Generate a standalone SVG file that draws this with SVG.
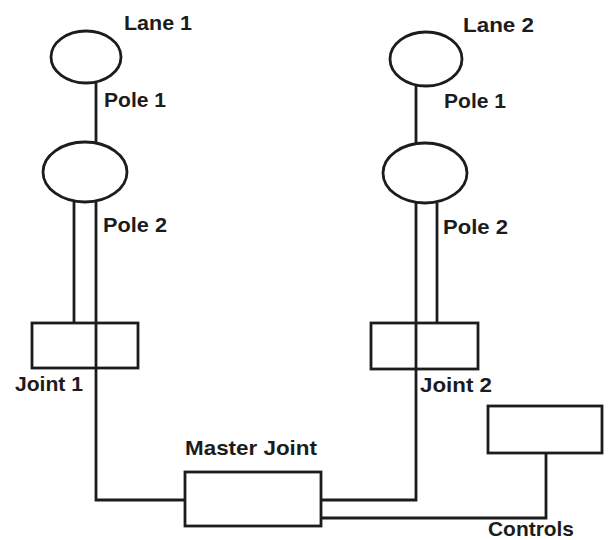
<svg xmlns="http://www.w3.org/2000/svg" width="609" height="540" viewBox="0 0 609 540">
<style>
.s{fill:none;stroke:#1c1c1c;stroke-width:2.8}
.t{font-family:"Liberation Sans",Arial,sans-serif;font-weight:bold;font-size:21px;fill:#1c1c1c}
</style>
<rect width="609" height="540" fill="#ffffff"/>
<g id="connectors">
<line class="s" x1="96" y1="83" x2="96" y2="142"/>
<line class="s" x1="74" y1="202" x2="74" y2="323"/>
<polyline class="s" points="96,202 96,500 185,500"/>
<line class="s" x1="416" y1="86" x2="416" y2="143"/>
<line class="s" x1="437" y1="203" x2="437" y2="323"/>
<polyline class="s" points="416,203 416,500 321,500"/>
<polyline class="s" points="546,453 546,518 321,518"/>
</g>
<g id="lane1">
<ellipse class="s" cx="86" cy="57" rx="35" ry="26"/>
<text class="t" x="124" y="30" textLength="68" lengthAdjust="spacingAndGlyphs">Lane 1</text>
</g>
<g id="pole1-left-label"><text class="t" x="104" y="107" textLength="62" lengthAdjust="spacingAndGlyphs">Pole 1</text></g>
<g id="ellipse-left">
<ellipse class="s" cx="85" cy="172" rx="42" ry="30"/>
</g>
<g id="pole2-left-label"><text class="t" x="103" y="232" textLength="64" lengthAdjust="spacingAndGlyphs">Pole 2</text></g>
<g id="joint1">
<rect class="s" x="32" y="323" width="106" height="45"/>
<text class="t" x="15" y="391" textLength="68" lengthAdjust="spacingAndGlyphs">Joint 1</text>
</g>
<g id="lane2">
<ellipse class="s" cx="426" cy="59" rx="36" ry="27"/>
<text class="t" x="463" y="32" textLength="71" lengthAdjust="spacingAndGlyphs">Lane 2</text>
</g>
<g id="pole1-right-label"><text class="t" x="444" y="108" textLength="62" lengthAdjust="spacingAndGlyphs">Pole 1</text></g>
<g id="ellipse-right">
<ellipse class="s" cx="425" cy="173" rx="42" ry="30"/>
</g>
<g id="pole2-right-label"><text class="t" x="443" y="234" textLength="65" lengthAdjust="spacingAndGlyphs">Pole 2</text></g>
<g id="joint2">
<rect class="s" x="371" y="323" width="107" height="46"/>
<text class="t" x="420" y="392" textLength="72" lengthAdjust="spacingAndGlyphs">Joint 2</text>
</g>
<g id="master-joint">
<rect class="s" x="185" y="472" width="136" height="54"/>
<text class="t" x="185" y="455" textLength="132" lengthAdjust="spacingAndGlyphs">Master Joint</text>
</g>
<g id="controls">
<rect class="s" x="488" y="406" width="114" height="47"/>
<text class="t" x="488" y="536" textLength="86" lengthAdjust="spacingAndGlyphs">Controls</text>
</g>
</svg>
